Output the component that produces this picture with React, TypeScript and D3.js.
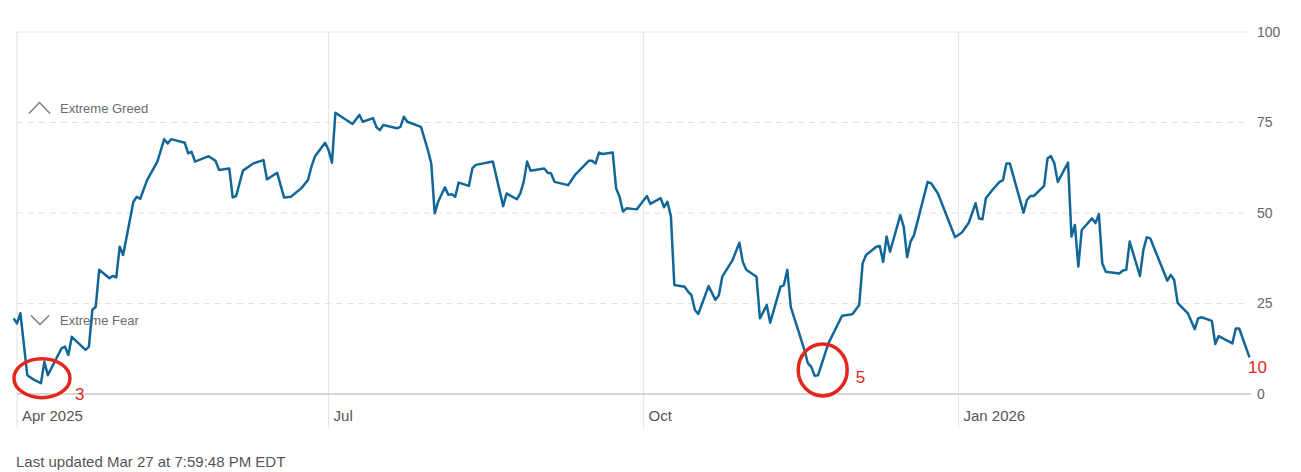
import * as d3 from "d3";

// Fear & Greed index readings (one point per visible vertex of the line)
const dates = [
  "2025-03-31", "2025-04-01", "2025-04-02", "2025-04-04", "2025-04-06", "2025-04-08",
  "2025-04-09", "2025-04-10", "2025-04-12", "2025-04-14", "2025-04-15", "2025-04-16",
  "2025-04-17", "2025-04-21", "2025-04-22", "2025-04-23", "2025-04-24", "2025-04-25",
  "2025-04-28", "2025-04-29", "2025-04-30", "2025-05-01", "2025-05-02", "2025-05-05",
  "2025-05-06", "2025-05-07", "2025-05-09", "2025-05-12", "2025-05-14", "2025-05-15",
  "2025-05-16", "2025-05-20", "2025-05-21", "2025-05-22", "2025-05-23", "2025-05-27",
  "2025-05-29", "2025-05-30", "2025-06-02", "2025-06-03", "2025-06-04", "2025-06-06",
  "2025-06-09", "2025-06-12", "2025-06-13", "2025-06-16", "2025-06-18", "2025-06-20",
  "2025-06-23", "2025-06-25", "2025-06-26", "2025-06-27", "2025-06-30", "2025-07-01",
  "2025-07-02", "2025-07-03", "2025-07-08", "2025-07-10", "2025-07-11", "2025-07-14",
  "2025-07-15", "2025-07-16", "2025-07-17", "2025-07-21", "2025-07-22", "2025-07-23",
  "2025-07-24", "2025-07-28", "2025-07-30", "2025-07-31", "2025-08-01", "2025-08-02",
  "2025-08-04", "2025-08-05", "2025-08-06", "2025-08-07", "2025-08-08", "2025-08-11",
  "2025-08-12", "2025-08-13", "2025-08-18", "2025-08-21", "2025-08-22", "2025-08-25",
  "2025-08-26", "2025-08-27", "2025-08-28", "2025-08-29", "2025-09-02", "2025-09-03",
  "2025-09-04", "2025-09-05", "2025-09-09", "2025-09-10", "2025-09-11", "2025-09-15",
  "2025-09-16", "2025-09-17", "2025-09-18", "2025-09-19", "2025-09-22", "2025-09-23",
  "2025-09-24", "2025-09-25", "2025-09-26", "2025-09-29", "2025-09-30", "2025-10-02",
  "2025-10-03", "2025-10-06", "2025-10-07", "2025-10-08", "2025-10-09", "2025-10-10",
  "2025-10-13", "2025-10-14", "2025-10-15", "2025-10-16", "2025-10-17", "2025-10-20",
  "2025-10-22", "2025-10-23", "2025-10-24", "2025-10-27", "2025-10-29", "2025-10-30",
  "2025-10-31", "2025-11-03", "2025-11-04", "2025-11-05", "2025-11-06", "2025-11-07",
  "2025-11-10", "2025-11-11", "2025-11-12", "2025-11-13", "2025-11-17", "2025-11-18",
  "2025-11-19", "2025-11-20", "2025-11-21", "2025-11-24", "2025-11-28", "2025-12-01",
  "2025-12-03", "2025-12-04", "2025-12-05", "2025-12-08", "2025-12-09", "2025-12-10",
  "2025-12-11", "2025-12-12", "2025-12-15", "2025-12-16", "2025-12-17", "2025-12-18",
  "2025-12-19", "2025-12-23", "2025-12-24", "2025-12-26", "2025-12-31", "2026-01-02",
  "2026-01-04", "2026-01-06", "2026-01-07", "2026-01-08", "2026-01-09", "2026-01-11",
  "2026-01-13", "2026-01-14", "2026-01-15", "2026-01-16", "2026-01-20", "2026-01-21",
  "2026-01-22", "2026-01-23", "2026-01-26", "2026-01-27", "2026-01-28", "2026-01-29",
  "2026-01-30", "2026-02-02", "2026-02-03", "2026-02-04", "2026-02-05", "2026-02-06",
  "2026-02-09", "2026-02-10", "2026-02-11", "2026-02-12", "2026-02-13", "2026-02-17",
  "2026-02-18", "2026-02-19", "2026-02-20", "2026-02-23", "2026-02-24", "2026-02-25",
  "2026-02-26", "2026-03-03", "2026-03-04", "2026-03-05", "2026-03-06", "2026-03-09",
  "2026-03-11", "2026-03-12", "2026-03-13", "2026-03-16", "2026-03-17", "2026-03-18",
  "2026-03-22", "2026-03-23", "2026-03-24", "2026-03-27",
];

const scores = [
  20.9, 19.5, 22.3, 5.2, 3.9, 3,
  8.9, 5.2, 8.9, 12.6, 13.1, 10.8,
  15.8, 12.2, 13.1, 23.2, 24.1, 34.3,
  32.0, 32.6, 32.2, 40.7, 38.4, 53.1,
  54.5, 53.9, 59.1, 64.2, 70.4, 69.2,
  70.4, 69.4, 66.5, 66.9, 64.2, 65.7,
  64.4, 61.9, 62.3, 54.3, 54.7, 61.7,
  63.7, 64.6, 59.3, 61.1, 54.3, 54.5,
  56.8, 59.1, 62.8, 65.6, 69.4, 67.4,
  63.9, 77.7, 74.6, 77.1, 75.2, 76.2,
  73.7, 72.9, 74.3, 73.4, 73.8, 76.6,
  75.2, 73.8, 67.4, 63.7, 49.9, 53.1,
  57.1, 55.0, 55.2, 54.5, 58.4, 57.5,
  62.3, 63.3, 64.2, 51.9, 55.4, 53.8,
  55.4, 58.6, 64.2, 61.7, 62.3, 61.1,
  60.9, 58.6, 57.7, 59.1, 60.5, 64.4,
  64.4, 63.7, 66.7, 66.3, 66.7, 56.8,
  54.5, 50.4, 51.3, 51.0, 52.2, 54.7,
  52.5, 54.1, 51.6, 53.1, 49.0, 30.1,
  29.6, 28.3, 27.3, 23.2, 22.1, 29.8,
  26.0, 27.3, 32.4, 37.0, 41.8, 36.5,
  34.3, 32.4, 20.9, 22.7, 24.6, 19.7,
  29.6, 30.1, 34.3, 24.1, 12.2, 8.5,
  7.5, 5.0, 5.2, 14.0, 21.6, 22.0,
  24.6, 36.1, 38.4, 40.7, 40.9, 36.5,
  43.5, 39.3, 49.4, 46.2, 37.8, 42.1,
  43.9, 58.6, 58.2, 55.4, 43.3, 44.6,
  47.3, 52.7, 48.5, 48.3, 54.1, 56.5,
  58.6, 59.1, 63.7, 63.7, 50.1, 53.6,
  54.7, 54.7, 57.5, 65.1, 65.7, 63.7,
  58.6, 63.9, 43.5, 46.7, 35.2, 45.3,
  48.5, 47.2, 49.7, 36.1, 33.8, 33.3,
  34.1, 34.3, 42.1, 32.6, 39.8, 43.3,
  43.0, 31.3, 32.9, 31.5, 25.2, 22.3,
  17.9, 20.9, 21.2, 20.2, 13.8, 16.0,
  14.0, 18.1, 18.1, 10.1,
];

const yTicks = [0, 25, 50, 75, 100];
const xTickDates = ["2025-04-01", "2025-07-01", "2025-10-01", "2026-01-01"];
const xTickLabels = ["Apr 2025", "Jul", "Oct", "Jan 2026"];

// annotated lows: date, value, label
const callouts = [
  { date: "2025-04-08", value: 3, label: "3" },
  { date: "2025-11-20", value: 5, label: "5" },
];
const lastLabel = "10";

const zones = [
  { name: "Extreme Greed", value: 75, up: true },
  { name: "Extreme Fear", value: 25, up: false },
];

const footer = "Last updated Mar 27 at 7:59:48 PM EDT";

const W = 1301;
const H = 472;
const FONT = "'Liberation Sans', Arial, Helvetica, sans-serif";
const LINE = "#136798";
const RED = "#e2271f";

export default function App() {
  const parse = (s: string) => new Date(s + "T00:00:00Z");
  const data = dates.map((d, i) => ({ date: parse(d), value: scores[i] }));

  const x = d3
    .scaleUtc()
    .domain([parse("2025-04-01"), parse("2026-03-27")])
    .range([17, 1249.5]);
  const y = d3.scaleLinear().domain([0, 100]).range([394, 32]);

  const line = d3
    .line<{ date: Date; value: number }>()
    .x((d) => x(d.date))
    .y((d) => y(d.value))
    .curve(d3.curveLinear);

  const left = 17;
  const right = 1248;
  const last = data[data.length - 1];

  return (
    <div style={{ position: "absolute", left: 0, top: 0 }}>
      <svg width={W} height={H} style={{ display: "block", background: "#fff" }}>
        {/* vertical month gridlines */}
        {xTickDates.map((d, i) => (
          <g key={d}>
            <line
              x1={x(parse(d))}
              x2={x(parse(d))}
              y1={y(100)}
              y2={428}
              stroke="#e6e6e6"
              strokeWidth={1.2}
            />
            <text
              x={x(parse(d)) + 5}
              y={421}
              fontFamily={FONT}
              fontSize={15}
              fill="#555"
            >
              {xTickLabels[i]}
            </text>
          </g>
        ))}

        {/* horizontal gridlines and right axis */}
        {yTicks.map((t) => (
          <g key={t}>
            {t !== 0 && (
              <line
                x1={left}
                x2={right}
                y1={y(t)}
                y2={y(t)}
                stroke={t === 100 ? "#e8e8e8" : "#e2e2e2"}
                strokeWidth={1.2}
                strokeDasharray={t === 100 ? undefined : "6,5"}
              />
            )}
            <text
              x={1257}
              y={y(t)}
              dy="0.35em"
              fontFamily={FONT}
              fontSize={14}
              fill="#666"
            >
              {t}
            </text>
          </g>
        ))}
        <line x1={left} x2={1251} y1={y(0)} y2={y(0)} stroke="#c8c8c8" strokeWidth={1.5} />

        {/* zone labels */}
        {zones.map((z) => {
          const cy = z.up ? y(z.value) - 14 : y(z.value) + 17;
          const pts = z.up
            ? [[29, cy + 5], [39.5, cy - 6], [50, cy + 5]]
            : [[31, cy - 5], [40, cy + 4], [49, cy - 5]];
          return (
            <g key={z.name}>
              <polyline
                points={pts.map((p) => p.join(",")).join(" ")}
                fill="none"
                stroke="#777"
                strokeWidth={1.3}
              />
              <text
                x={60}
                y={cy}
                dy="0.35em"
                fontFamily={FONT}
                fontSize={13}
                fill="#6b6b6b"
              >
                {z.name}
              </text>
            </g>
          );
        })}

        {/* index line */}
        <path
          d={line(data) ?? ""}
          fill="none"
          stroke={LINE}
          strokeWidth={2.5}
          strokeLinejoin="round"
        />

        {/* red callouts */}
        <ellipse
          cx={x(parse(callouts[0].date)) + 1}
          cy={y(callouts[0].value) - 5}
          rx={28}
          ry={19.5}
          fill="none"
          stroke={RED}
          strokeWidth={3.5}
        />
        <text
          x={x(parse(callouts[0].date)) + 34}
          y={400}
          fontFamily={FONT}
          fontSize={17}
          fill={RED}
        >
          {callouts[0].label}
        </text>
        <ellipse
          cx={x(parse(callouts[1].date)) + 8}
          cy={y(callouts[1].value) - 6}
          rx={24.5}
          ry={26}
          fill="none"
          stroke={RED}
          strokeWidth={3.5}
        />
        <text
          x={x(parse(callouts[1].date)) + 41}
          y={383}
          fontFamily={FONT}
          fontSize={17}
          fill={RED}
        >
          {callouts[1].label}
        </text>
        <text
          x={x(last.date) - 1.5}
          y={373}
          fontFamily={FONT}
          fontSize={17}
          fill={RED}
        >
          {lastLabel}
        </text>

        {/* footer */}
        <text x={16} y={462} dy="0.35em" fontFamily={FONT} fontSize={15} fill="#555">
          {footer}
        </text>
      </svg>
    </div>
  );
}
